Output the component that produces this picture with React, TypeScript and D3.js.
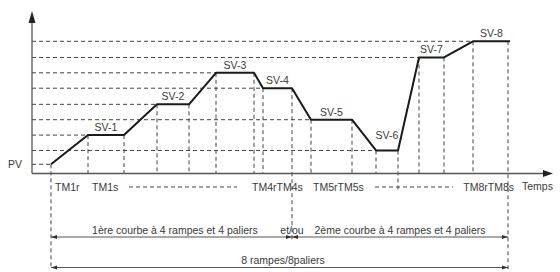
import React, { useEffect, useRef } from 'react';
import * as d3 from 'd3';

// setpoints (PV = 0, SV-8 = 8)
const setpointNames = ['SV-1', 'SV-2', 'SV-3', 'SV-4', 'SV-5', 'SV-6', 'SV-7', 'SV-8'];
const setpointLevels = [1.9, 3.9, 5.95, 4.95, 2.9, 0.9, 6.95, 8];
const pvLevel = 0;

// times (arbitrary units)
const startTime = 19;
const rampTimes = [37, 33, 27, 9, 19, 24, 21, 29];
const soakTimes = [36, 32, 38, 29, 41, 22, 25, 37];
const timeMax = 521;

const pvLabel = 'PV';
const timeLabels = ['TM1r', 'TM1s', 'TM4rTM4s', 'TM5rTM5s', 'TM8rTM8s'];
const axisTitle = 'Temps';
const curveLabels = ['1ère courbe à 4 rampes et 4 paliers', '2ème courbe à 4 rampes et 4 paliers'];
const joinLabel = 'et/ou';
const totalLabel = '8 rampes/8paliers';

export default function App() {
  const ref = useRef<SVGSVGElement>(null);

  useEffect(() => {
    const height = 272,
      axisY = 173.5,
      font = 'Liberation Sans, Arial, sans-serif',
      dash = '4,3';

    const svg = d3.select(ref.current);
    svg.selectAll('*').remove();

    const x = d3.scaleLinear().domain([0, timeMax]).range([32, 553]);
    const y = d3.scaleLinear().domain([0, 8]).range([164.3, 41.3]);

    // build the profile: start, then ramp → plateau start, soak → plateau end
    let t = startTime;
    const pts: [number, number][] = [[t, pvLevel]];
    const plateaus: { name: string; t0: number; t1: number; v: number }[] = [];
    setpointLevels.forEach((v, i) => {
      t += rampTimes[i];
      const t0 = t;
      t += soakTimes[i];
      pts.push([t0, v], [t, v]);
      plateaus.push({ name: setpointNames[i], t0, t1: t, v });
    });

    const g = svg.append('g');

    // horizontal dashed guides
    g.append('line')
      .attr('x1', x(0)).attr('x2', x(startTime))
      .attr('y1', y(pvLevel)).attr('y2', y(pvLevel))
      .attr('stroke', '#444').attr('stroke-dasharray', dash);
    g.selectAll('.hguide')
      .data(plateaus)
      .enter().append('line')
      .attr('class', 'hguide')
      .attr('x1', x(0)).attr('x2', d => x(d.t0))
      .attr('y1', d => y(d.v)).attr('y2', d => y(d.v))
      .attr('stroke', '#444').attr('stroke-dasharray', dash);

    // vertical dashed guides
    const last = plateaus[plateaus.length - 1];
    const vguides: { t: number; v: number; bottom: number }[] = [];
    plateaus.forEach((p, i) => {
      vguides.push({ t: p.t0, v: p.v, bottom: axisY });
      let bottom = axisY;
      if (i === 3) bottom = 242;
      if (i === 5) bottom = 190;
      if (i === 7) bottom = height;
      vguides.push({ t: i === 7 ? p.t1 - 2 : p.t1, v: p.v, bottom });
    });
    vguides.push({ t: startTime, v: pvLevel, bottom: 268 });
    g.selectAll('.vguide')
      .data(vguides)
      .enter().append('line')
      .attr('class', 'vguide')
      .attr('x1', d => x(d.t)).attr('x2', d => x(d.t))
      .attr('y1', d => y(d.v)).attr('y2', d => d.bottom)
      .attr('stroke', '#444').attr('stroke-dasharray', dash);

    // axes
    g.append('line')
      .attr('x1', x(0)).attr('x2', 546)
      .attr('y1', axisY).attr('y2', axisY)
      .attr('stroke', '#555').attr('stroke-width', 1.3);
    g.append('path')
      .attr('d', `M553,${axisY}L543,${axisY - 3.5}L543,${axisY + 3.5}Z`)
      .attr('fill', '#222');
    g.append('line')
      .attr('x1', x(0)).attr('x2', x(0))
      .attr('y1', axisY).attr('y2', 20)
      .attr('stroke', '#555').attr('stroke-width', 1.3);
    g.append('path')
      .attr('d', `M${x(0)},11L${x(0) - 3.5},23L${x(0) + 3.5},23Z`)
      .attr('fill', '#222');

    // profile
    g.append('path')
      .datum(pts)
      .attr('d', d3.line<[number, number]>().x(d => x(d[0])).y(d => y(d[1])))
      .attr('fill', 'none')
      .attr('stroke', '#1a1a1a')
      .attr('stroke-width', 2)
      .attr('stroke-linejoin', 'round');

    const text = (tx: number, ty: number, s: string, anchor = 'start') =>
      g.append('text')
        .attr('x', tx).attr('y', ty)
        .attr('text-anchor', anchor)
        .attr('font-family', font)
        .attr('font-size', 10.5)
        .attr('fill', '#3a3a3a')
        .text(s);

    // SV labels
    plateaus.forEach((p, i) => {
      text((x(p.t0) + x(p.t1)) / 2, y(p.v) - (i === 5 ? 11 : 4), p.name, 'middle');
    });
    text(8, y(pvLevel) + 4, pvLabel);

    // time labels under the axis
    const seg = (i: number) => plateaus[i];
    const tRamp = (i: number) => seg(i).t0 - rampTimes[i];
    text(x(tRamp(0)) + 4, 191, timeLabels[0]);
    text(x(seg(0).t0) + 4, 191, timeLabels[1]);
    text(x(tRamp(3)) - 2, 191, timeLabels[2]);
    text(x(seg(4).t0) + 2, 191, timeLabels[3]);
    text(x(seg(7).t1) + 4, 191, timeLabels[4], 'end');
    text(522, 190, axisTitle);
    [[129, 237], [375, 453]].forEach(([a, b]) =>
      g.append('line')
        .attr('x1', a).attr('x2', b).attr('y1', 187).attr('y2', 187)
        .attr('stroke', '#444').attr('stroke-dasharray', dash));

    // range brackets
    const xStart = x(startTime),
      xMid = x(seg(3).t1),
      xEnd = x(last.t1 - 2);
    const bracket = (a: number, b: number, yy: number) => {
      g.append('line')
        .attr('x1', a).attr('x2', b).attr('y1', yy).attr('y2', yy)
        .attr('stroke', '#555').attr('stroke-width', 1.2);
      g.append('path')
        .attr('d', `M${a},${yy}L${a + 6},${yy - 2}L${a + 6},${yy + 2}Z M${b},${yy}L${b - 6},${yy - 2}L${b - 6},${yy + 2}Z`)
        .attr('fill', '#333');
    };
    bracket(xStart, xMid, 237);
    bracket(xMid, xEnd, 237);
    bracket(xStart, xEnd, 267.5);
    text(175, 233.5, curveLabels[0], 'middle');
    text(xMid, 233.5, joinLabel, 'middle');
    text(400, 233.5, curveLabels[1], 'middle');
    text(283, 263.5, totalLabel, 'middle');
  }, []);

  return (
    <div style={{ position: 'absolute', left: 0, top: 0 }}>
      <svg ref={ref} width={560} height={272} style={{ display: 'block', background: '#fff' }} />
    </div>
  );
}
